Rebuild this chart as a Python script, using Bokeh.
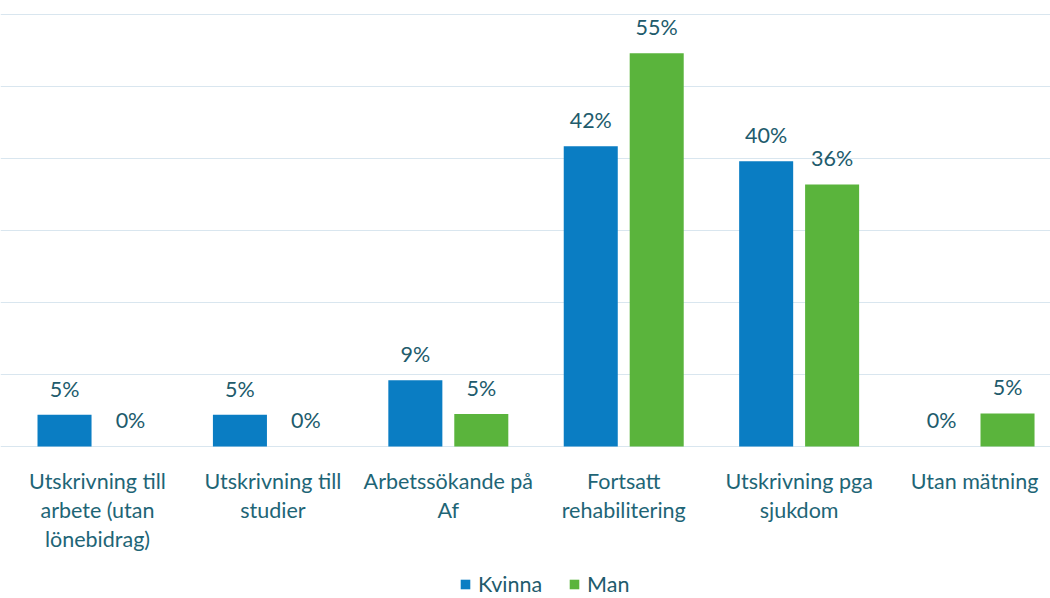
from bokeh.plotting import figure
from bokeh.models import ColumnDataSource, Range1d, FixedTicker, Legend, LegendItem
from bokeh.transform import dodge
from bokeh.core.properties import value
from bokeh.embed import file_html
from bokeh.resources import INLINE

categories = [
    "Utskrivning till\narbete (utan\nlönebidrag)",
    "Utskrivning till\nstudier",
    "Arbetssökande på\nAf",
    "Fortsatt\nrehabilitering",
    "Utskrivning pga\nsjukdom",
    "Utan mätning",
]
kvinna = [4.4, 4.4, 9.2, 41.7, 39.6, 0.0]
man = [0.0, 0.0, 4.5, 54.6, 36.4, 4.6]
kvinna_labels = ["5%", "5%", "9%", "42%", "40%", "0%"]
man_labels = ["0%", "0%", "5%", "55%", "36%", "5%"]
series_names = ["Kvinna", "Man"]
gridlines = [0, 10, 20, 30, 40, 50, 60]

BLUE = "#0a7dc3"
GREEN = "#5ab43c"
LABEL = "#215b6c"
CAT = "#1e6576"
FONT = value("Lato")
FS = "21.5px"

src = ColumnDataSource(dict(
    x=list(range(len(categories))),
    cat=categories,
    kvinna=kvinna,
    man=man,
    kl=kvinna_labels,
    ml=man_labels,
    zero=[0] * len(categories),
))

p = figure(width=1050, height=598, output_backend="svg", toolbar_location=None,
           x_range=Range1d(-0.553, 5.433), y_range=Range1d(-21.11, 61.94),
           min_border_left=0, min_border_right=0, min_border_top=0, min_border_bottom=0)
p.outline_line_color = None
p.xaxis.visible = False
p.yaxis.visible = False
p.xgrid.visible = False
p.ygrid.ticker = FixedTicker(ticks=gridlines)
p.ygrid.grid_line_color = "#d9e6ef"
p.ygrid.grid_line_width = 1

off = 0.188
bw = 0.308
rk = p.vbar(x=dodge("x", -off, range=p.x_range), top="kvinna", width=bw, source=src,
            fill_color=BLUE, line_color=None)
rm = p.vbar(x=dodge("x", off, range=p.x_range), top="man", width=bw, source=src,
            fill_color=GREEN, line_color=None)

p.text(x=dodge("x", -off, range=p.x_range), y="kvinna", text="kl", source=src,
       text_font=FONT, text_font_size=FS, text_color=LABEL,
       text_align="center", text_baseline="alphabetic", y_offset=-26)
p.text(x=dodge("x", off, range=p.x_range), y="man", text="ml", source=src,
       text_font=FONT, text_font_size=FS, text_color=LABEL,
       text_align="center", text_baseline="alphabetic", y_offset=-26)

# category labels below baseline
p.text(x="x", y="zero", text="cat", source=src,
       text_font=FONT, text_font_size=FS, text_color=CAT,
       text_align="center", text_baseline="top", y_offset=22,
       text_line_height=1.1)

legend = Legend(items=[LegendItem(label=series_names[0], renderers=[rk]),
                       LegendItem(label=series_names[1], renderers=[rm])],
                location=(459, 1), orientation="horizontal")
legend.label_text_font = "Lato"
legend.label_text_font_size = FS
legend.label_text_color = LABEL
legend.glyph_width = 12
legend.glyph_height = 12
legend.label_standoff = 7
legend.spacing = 26
legend.padding = 0
legend.margin = 0
legend.border_line_color = None
legend.background_fill_alpha = 0
p.add_layout(legend, "center")

open("out.html", "w").write(file_html(p, INLINE))
